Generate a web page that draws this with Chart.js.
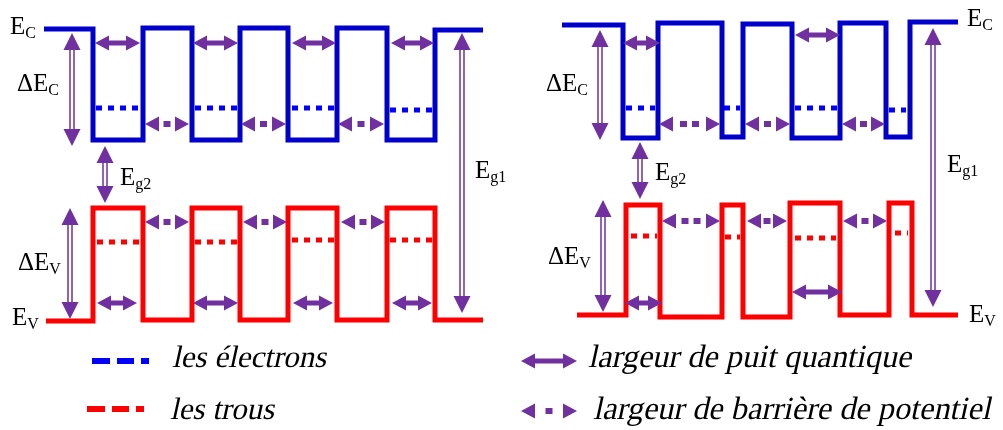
<!DOCTYPE html>
<html>
<head>
<meta charset="utf-8">
<script src="https://cdn.jsdelivr.net/npm/chart.js@4.4.1/dist/chart.umd.min.js"></script>
<style>
  html, body { margin: 0; padding: 0; background: #fff; }
  #wrap { width: 1003px; height: 430px; }
</style>
</head>
<body>
<div id="wrap"><canvas id="bands"></canvas></div>
<script>
// band edges: x breakpoints, then the level of each segment between two breakpoints
const leftCbX  = [44, 93, 143, 192, 240, 288, 337, 387, 435, 483];
const leftCbY  = [29, 140, 28, 140, 28, 140, 28, 140, 30];
const leftVbX  = [46, 93, 143, 192, 240, 288, 337, 387, 435, 483];
const leftVbY  = [321, 208, 320, 208, 320, 208, 320, 208, 320];
const rightCbX = [562, 623, 658, 722, 743, 792, 840, 886, 910, 958];
const rightCbY = [25, 138, 23, 137, 24, 138, 23, 137, 22];
const rightVbX = [577, 626, 660, 722, 743, 790, 840, 889, 912, 958];
const rightVbY = [315, 205, 317, 205, 317, 203, 315, 203, 315];

// confined levels [x1, x2, y]
const electronLevels = [[96, 140, 108], [195, 238, 108], [292, 335, 108], [390, 432, 110],
                        [626, 655, 108], [724, 740, 108], [795, 839, 108], [889, 906, 110]];
const holeLevels = [[97, 142, 242], [195, 238, 242], [292, 337, 240], [390, 432, 240],
                    [631, 657, 236], [725, 740, 237], [795, 836, 238], [895, 908, 233]];

// horizontal arrows [x1, x2, y]
const wellArrows = [[95, 140, 43], [193, 238, 43], [292, 336, 43], [391, 434, 43],
                    [97, 137, 303], [193, 238, 303], [293, 333, 303], [392, 432, 303],
                    [623, 660, 43], [795, 840, 35],
                    [625, 662, 303], [792, 842, 292]];
const barrierArrows = [[145, 189, 124], [241, 286, 124], [338, 384, 124],
                       [145, 189, 222], [243, 287, 222], [341, 385, 222],
                       [659, 720, 124], [745, 790, 124], [842, 885, 124],
                       [662, 720, 221], [747, 787, 221], [843, 887, 221]];

// vertical double arrows [x, yTop, yBottom]
const gapArrows = [[72, 33, 146], [105, 146, 203], [70, 208, 319], [462, 33, 313],
                   [600, 30, 140], [640, 142, 199], [603, 200, 312], [933, 28, 307]];

// labels [x, baseline, main, sub]
const labels = [
  [10, 34, 'E', 'C'], [17, 91, 'ΔE', 'C'], [12, 325, 'E', 'V'], [18, 270, 'ΔE', 'V'],
  [120, 185, 'E', 'g2'], [475, 178, 'E', 'g1'],
  [967, 26, 'E', 'C'], [546, 91, 'ΔE', 'C'], [969, 322, 'E', 'V'], [548, 264, 'ΔE', 'V'],
  [655, 180, 'E', 'g2'], [947, 172, 'E', 'g1']
];

// legend
const legendItems = [
  { kind: 'blue', x: 92, y: 361, text: 'les électrons', tx: 172, ty: 367, w: 158 },
  { kind: 'red', x: 87, y: 409, text: 'les trous', tx: 170, ty: 419, w: 108 },
  { kind: 'well', x: 521, y: 361, text: 'largeur de puit quantique', tx: 588, ty: 367, w: 327 },
  { kind: 'barrier', x: 521, y: 411, text: 'largeur de barrière de potentiel', tx: 593, ty: 419, w: 402 }
];

const BLUE = '#0000cc';
const BLUE_DOT = '#0000ff';
const RED = '#ff0000';
const PURPLE = '#7030a0';
const SERIF = '"Liberation Serif", "Times New Roman", Times, serif';

function steps(xs, ys) {
  const pts = [];
  for (let i = 0; i < ys.length; i++) {
    pts.push({ x: xs[i], y: ys[i] });
    pts.push({ x: xs[i + 1], y: ys[i] });
  }
  return pts;
}

function bandSet(xs, ys, color) {
  return {
    data: steps(xs, ys),
    showLine: true,
    borderColor: color,
    borderWidth: 5,
    pointRadius: 0,
    pointHoverRadius: 0,
    tension: 0,
    borderJoinStyle: 'miter'
  };
}

function levelSet(lv, color) {
  return {
    data: [{ x: lv[0], y: lv[2] }, { x: lv[1], y: lv[2] }],
    showLine: true,
    borderColor: color,
    borderWidth: 5,
    borderDash: [6, 6],
    pointRadius: 0,
    pointHoverRadius: 0,
    tension: 0
  };
}

const datasets = [
  bandSet(leftCbX, leftCbY, BLUE),
  bandSet(leftVbX, leftVbY, RED),
  bandSet(rightCbX, rightCbY, BLUE),
  bandSet(rightVbX, rightVbY, RED)
];
electronLevels.forEach(lv => datasets.push(levelSet(lv, BLUE_DOT)));
holeLevels.forEach(lv => datasets.push(levelSet(lv, RED)));

function head(ctx, tipX, tipY, dx, dy, len, half) {
  // dx, dy: unit direction the head points to
  const bx = tipX - dx * len, by = tipY - dy * len;
  ctx.beginPath();
  ctx.moveTo(tipX, tipY);
  ctx.lineTo(bx - dy * half, by + dx * half);
  ctx.lineTo(bx + dy * half, by - dx * half);
  ctx.closePath();
  ctx.fill();
}

function hArrow(ctx, x1, x2, y, dotted) {
  const hl = 14, hh = 7.5;
  ctx.fillStyle = PURPLE;
  head(ctx, x1, y, -1, 0, hl, hh);
  head(ctx, x2, y, 1, 0, hl, hh);
  if (!dotted) {
    ctx.fillRect(x1 + hl - 1, y - 2.5, x2 - x1 - 2 * hl + 2, 5);
    return;
  }
  const inner = x2 - x1 - 2 * hl;
  const n = Math.max(1, Math.floor((inner - 5) / 12));
  const used = n * 7 + (n - 1) * 5;
  let sx = x1 + hl + (inner - used) / 2;
  for (let i = 0; i < n; i++) {
    ctx.fillRect(sx, y - 3, 7, 6);
    sx += 12;
  }
}

function vArrow(ctx, x, y1, y2) {
  const hl = 17, hw = 8.5;
  ctx.fillStyle = PURPLE;
  ctx.strokeStyle = PURPLE;
  ctx.lineWidth = 1.5;
  ctx.beginPath();
  ctx.moveTo(x - 2, y1 + hl - 2); ctx.lineTo(x - 2, y2 - hl + 2);
  ctx.moveTo(x + 2, y1 + hl - 2); ctx.lineTo(x + 2, y2 - hl + 2);
  ctx.stroke();
  head(ctx, x, y1, 0, -1, hl, hw);
  head(ctx, x, y2, 0, 1, hl, hw);
}

// slanted serif text, fitted to the width it has in the figure
function slantText(ctx, text, x, y, width) {
  let size = 31;
  ctx.font = size + 'px ' + SERIF;
  size = size * width / (ctx.measureText(text).width + size * 0.12);
  ctx.font = size.toFixed(1) + 'px ' + SERIF;
  ctx.save();
  ctx.translate(x, y);
  ctx.transform(1, 0, -0.22, 1, 0, 0);
  ctx.fillText(text, 0, 0);
  ctx.restore();
}

const overlay = {
  id: 'overlay',
  afterDatasetsDraw(chart) {
    const ctx = chart.ctx;
    const sx = chart.scales.x, sy = chart.scales.y;
    const px = v => sx.getPixelForValue(v);
    const py = v => sy.getPixelForValue(v);
    ctx.save();

    wellArrows.forEach(a => hArrow(ctx, px(a[0]), px(a[1]), py(a[2]), false));
    barrierArrows.forEach(a => hArrow(ctx, px(a[0]), px(a[1]), py(a[2]), true));
    gapArrows.forEach(a => vArrow(ctx, px(a[0]), py(a[1]), py(a[2])));

    ctx.fillStyle = '#000';
    ctx.textBaseline = 'alphabetic';
    ctx.textAlign = 'left';
    labels.forEach(l => {
      const x = px(l[0]), y = py(l[1]);
      ctx.font = '25px ' + SERIF;
      ctx.fillText(l[2], x, y);
      const w = ctx.measureText(l[2]).width;
      ctx.font = '16px ' + SERIF;
      ctx.fillText(l[3], x + w, y + 4);
    });

    legendItems.forEach(it => {
      const x = px(it.x), y = py(it.y);
      if (it.kind === 'blue' || it.kind === 'red') {
        ctx.fillStyle = it.kind === 'blue' ? BLUE_DOT : RED;
        ctx.fillRect(x, y - 3, 18, 6);
        ctx.fillRect(x + 25, y - 3, 17, 6);
        ctx.fillRect(x + 49, y - 3, 8, 6);
      } else {
        hArrow(ctx, x, x + 56, y, it.kind === 'barrier');
      }
      ctx.fillStyle = '#000';
      slantText(ctx, it.text, px(it.tx), py(it.ty), it.w);
    });

    ctx.restore();
  }
};

new Chart(document.getElementById('bands'), {
  type: 'scatter',
  data: { datasets },
  options: {
    responsive: true,
    maintainAspectRatio: false,
    animation: false,
    events: [],
    layout: { padding: 0, autoPadding: false },
    scales: {
      x: { type: 'linear', min: 0, max: 1003, display: false },
      y: { type: 'linear', min: 0, max: 430, reverse: true, display: false }
    },
    plugins: { legend: { display: false }, tooltip: { enabled: false } }
  },
  plugins: [overlay]
});
</script>
</body>
</html>
